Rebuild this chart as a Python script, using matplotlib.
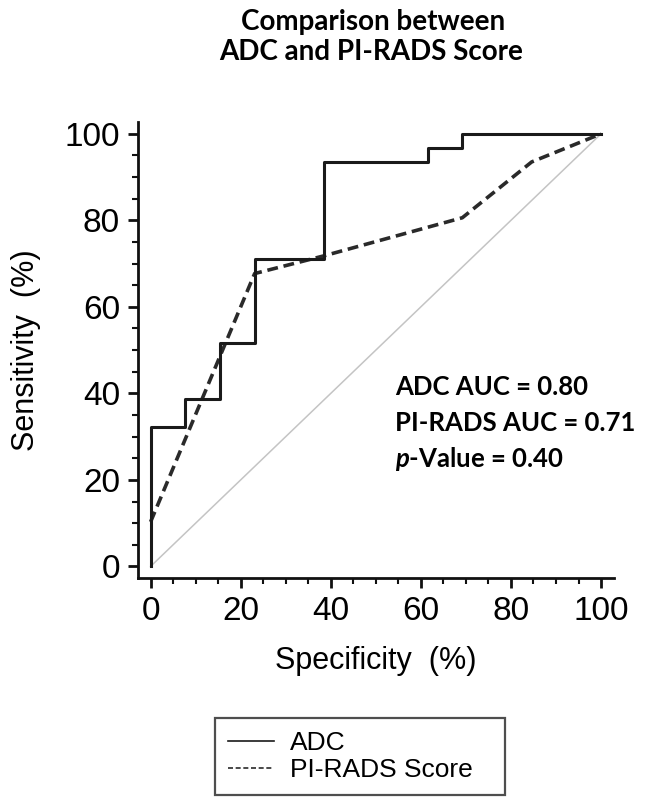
import matplotlib
matplotlib.use("Agg")
import matplotlib.pyplot as plt
from matplotlib.ticker import MultipleLocator

# ROC points (x = 100 - specificity, y = sensitivity, %)
adc_x = [0, 0, 7.7, 7.7, 15.4, 15.4, 23.1, 23.1, 38.5, 38.5, 61.5, 61.5, 69.2, 69.2, 100]
adc_y = [0, 32.3, 32.3, 38.7, 38.7, 51.6, 51.6, 71.0, 71.0, 93.5, 93.5, 96.8, 96.8, 100, 100]

pirads_x = [0, 23.1, 38.5, 69.2, 84.6, 100]
pirads_y = [10.3, 67.7, 71.8, 80.6, 93.5, 100]

ref_x = [0, 100]
ref_y = [0, 100]

ticks = [0, 20, 40, 60, 80, 100]
stats_lines = ["ADC AUC = 0.80", "PI-RADS AUC = 0.71", r"$\boldsymbol{p}$-Value = 0.40"]

plt.rcParams["mathtext.fontset"] = "custom"
plt.rcParams["mathtext.bfit"] = "Lato:italic:bold"

fig = plt.figure(figsize=(6.46, 8.05), dpi=100)
ax = fig.add_axes([0.2136, 0.2824, 0.737, 0.5664])

ax.plot(ref_x, ref_y, color="#c4c4c4", lw=1.1, zorder=1)
ax.plot(adc_x, adc_y, color="#1a1a1a", lw=2.2, label="ADC", zorder=3)
ax.plot(pirads_x, pirads_y, color="#2a2a2a", lw=2.6, ls=(0, (3, 1.6)),
        label="PI-RADS Score", zorder=2)

ax.set_xlim(-2.8, 102.9)
ax.set_ylim(-2.6, 102.8)
ax.set_xticks(ticks)
ax.set_yticks(ticks)
ax.xaxis.set_minor_locator(MultipleLocator(5))
ax.yaxis.set_minor_locator(MultipleLocator(5))

for s in ["top", "right"]:
    ax.spines[s].set_visible(False)
for s in ["left", "bottom"]:
    ax.spines[s].set_linewidth(2.0)
    ax.spines[s].set_color("#111111")

ax.tick_params(which="major", direction="out", length=7, width=2, color="#111111",
               labelsize=24, pad=6)
ax.tick_params(which="minor", direction="out", length=4, width=1.5, color="#111111")
for lab in ax.get_xticklabels() + ax.get_yticklabels():
    lab.set_fontfamily("Liberation Sans")

ax.set_xlabel("Specificity  (%)", fontsize=22, family="Liberation Sans", labelpad=14)
ax.set_ylabel("Sensitivity  (%)", fontsize=22, family="Liberation Sans", labelpad=17)

# two-line bold title
fig.text(0.578, 0.973, "Comparison between", ha="center", va="center",
         fontsize=20, fontweight="bold", family="Lato")
fig.text(0.575, 0.935, "ADC and PI-RADS Score", ha="center", va="center",
         fontsize=20, fontweight="bold", family="Lato")

for i, t in enumerate(stats_lines):
    fig.text(0.611, 0.519 - i * 0.0445, t, ha="left", va="center",
             fontsize=18.5, fontweight="bold", family="Lato")

leg = fig.legend(loc="lower left", bbox_to_anchor=(215 / 646, 10 / 805, 290 / 646, 0.09),
                 mode="expand", borderaxespad=0, frameon=True, fancybox=False,
                 edgecolor="#222222", prop={"family": "Liberation Sans", "size": 19},
                 handlelength=1.75, handletextpad=0.6, borderpad=0.5, labelspacing=0.1)
leg.get_frame().set_linewidth(1.6)
for h in leg.get_lines():
    h.set_linewidth(1.2)

fig.savefig("out.png", dpi=100, facecolor="white")
